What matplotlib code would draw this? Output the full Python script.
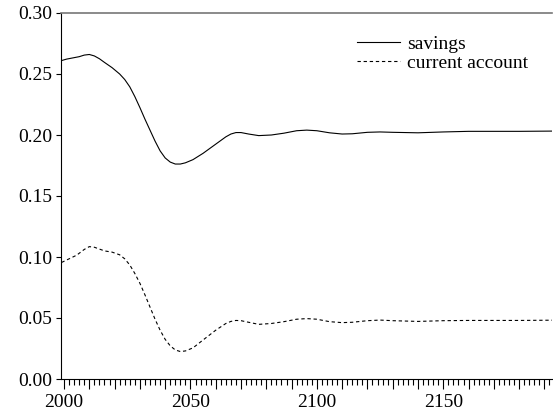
import matplotlib
matplotlib.use('Agg')
import matplotlib.pyplot as plt
from matplotlib.ticker import MultipleLocator, FuncFormatter

# simulated paths, read off at irregular years
years = [1999, 2001, 2003, 2006, 2008, 2010, 2012, 2014, 2016, 2019, 2022,
         2024, 2026, 2028, 2030, 2032, 2034, 2036, 2038, 2040, 2042, 2044,
         2046, 2048, 2051, 2055, 2060, 2064, 2066, 2068, 2070, 2073, 2077,
         2082, 2087, 2092, 2096, 2100, 2105, 2110, 2114, 2120, 2125, 2130,
         2140, 2150, 2160, 2170, 2180, 2193]

savings = [0.261, 0.2622, 0.263, 0.2642, 0.2655, 0.2660, 0.2648, 0.2625,
           0.2595, 0.2552, 0.2500, 0.2455, 0.2395, 0.2315, 0.2225, 0.2130,
           0.2040, 0.1950, 0.1870, 0.1812, 0.1778, 0.1762, 0.1762, 0.1772,
           0.1798, 0.1850, 0.1925, 0.1985, 0.2008, 0.2020, 0.2020, 0.2008,
           0.1995, 0.2000, 0.2015, 0.2035, 0.2040, 0.2035, 0.2018, 0.2008,
           0.2010, 0.2022, 0.2025, 0.2022, 0.2018, 0.2025, 0.2030, 0.2030,
           0.2030, 0.2032]

ca_years = [1999, 2002, 2005, 2008, 2010, 2012, 2014, 2016, 2019, 2022,
            2024, 2026, 2028, 2030, 2032, 2034, 2036, 2038, 2040, 2042,
            2044, 2046, 2048, 2051, 2055, 2060, 2064, 2066, 2068, 2070,
            2073, 2077, 2082, 2087, 2092, 2096, 2100, 2105, 2110, 2114,
            2120, 2125, 2130, 2140, 2150, 2160, 2170, 2180, 2193]

current_account = [0.0955, 0.0985, 0.1015, 0.1062, 0.1085, 0.1080, 0.1065,
                   0.1050, 0.1040, 0.1018, 0.0985, 0.0935, 0.0865, 0.0785,
                   0.0690, 0.0590, 0.0490, 0.0400, 0.0325, 0.0272, 0.0238,
                   0.0225, 0.0230, 0.0255, 0.0320, 0.0400, 0.0455, 0.0472,
                   0.0480, 0.0478, 0.0465, 0.0448, 0.0455, 0.0470, 0.0490,
                   0.0495, 0.0490, 0.0470, 0.0462, 0.0465, 0.0478, 0.0483,
                   0.0478, 0.0472, 0.0478, 0.0480, 0.0480, 0.0480, 0.0482]

plt.rcParams['font.family'] = ['Liberation Serif', 'DejaVu Serif']

fig = plt.figure(figsize=(5.53, 4.16), dpi=100)
ax = fig.add_axes([61 / 553, 37 / 416, 491 / 553, 366 / 416])

ax.plot(years, savings, color='black', lw=0.8, label='savings')
ax.plot(ca_years, current_account, color='black', lw=0.8,
        linestyle=(0, (3, 2.5)), label='current account')

ax.set_xlim(1998.8, 2193)
ax.set_ylim(0.0, 0.30)

ax.spines['right'].set_visible(False)
ax.spines['top'].set_color('#777777')
ax.spines['top'].set_linewidth(1.2)
ax.spines['left'].set_linewidth(0.8)
ax.spines['bottom'].set_linewidth(0.8)

ax.xaxis.set_major_locator(MultipleLocator(10))
ax.xaxis.set_minor_locator(MultipleLocator(2))
ax.xaxis.set_major_formatter(
    FuncFormatter(lambda v, p: f'{int(round(v))}' if round(v) % 50 == 0 else ''))
ax.yaxis.set_major_locator(MultipleLocator(0.05))
ax.yaxis.set_major_formatter(FuncFormatter(lambda v, p: f'{v:.2f}'))

ax.tick_params(axis='x', which='major', direction='out', length=7, width=0.8,
               labelsize=14, pad=4)
ax.tick_params(axis='x', which='minor', direction='out', length=4, width=0.8)
ax.tick_params(axis='y', direction='out', length=3.5, width=0.8,
               labelsize=14, pad=3)

ax.legend(loc='upper left', bbox_to_anchor=(0.603, 0.94), frameon=False,
          borderpad=0, borderaxespad=0, handlelength=2.2, handletextpad=0.35,
          labelspacing=0.1, fontsize=14)

fig.savefig('out.png', dpi=100)
